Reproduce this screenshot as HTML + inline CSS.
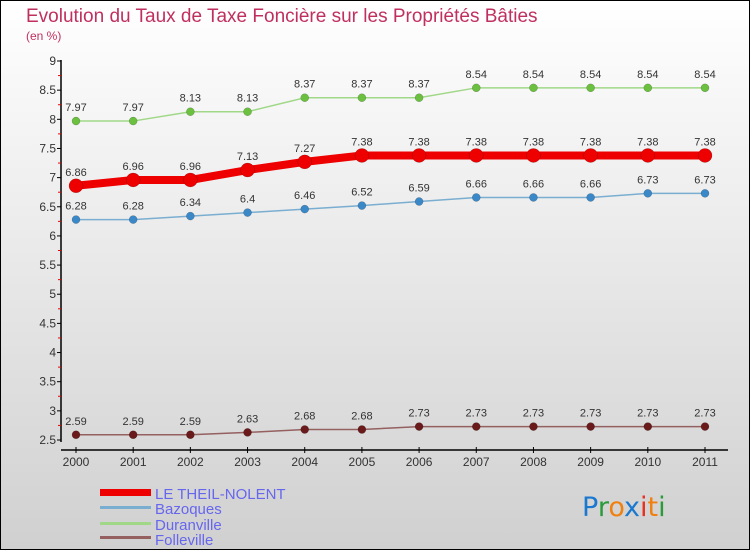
<!DOCTYPE html>
<html><head><meta charset="utf-8"><style>
body{margin:0}
#c{width:750px;height:550px;position:relative;overflow:hidden;font-family:"Liberation Sans",sans-serif}
</style></head><body>
<div id="c">
<svg id="s" width="750" height="550" xmlns="http://www.w3.org/2000/svg">
<defs><linearGradient id="bg" x1="0" y1="0" x2="0" y2="1"><stop offset="0" stop-color="#ffffff"/><stop offset="1" stop-color="#d0d0d0"/></linearGradient></defs>
<rect x="0.5" y="0.5" width="749" height="549" fill="url(#bg)" stroke="#000"/>
<text x="26" y="22" font-size="19" fill="#c0305f">Evolution du Taux de Taxe Foncière sur les Propriétés Bâties</text>
<text x="26" y="40" font-size="12" fill="#c0305f">(en %)</text>
<g id="axes"></g><g id="series"></g>
<g>
<rect x="100" y="489" width="51" height="7" fill="#ee0000"/>
<text x="155" y="499" font-size="15" fill="#6666ee">LE THEIL-NOLENT</text>
<rect x="100" y="506" width="51" height="3" fill="#7aaed0"/>
<text x="155" y="514" font-size="15" fill="#6666ee">Bazoques</text>
<rect x="100" y="522" width="51" height="3" fill="#a0d888"/>
<text x="155" y="530" font-size="15" fill="#6666ee">Duranville</text>
<rect x="100" y="536" width="51" height="3" fill="#946060"/>
<text x="155" y="545" font-size="15" fill="#6666ee">Folleville</text>
</g>
<g font-size="27" font-family="DejaVu Sans, sans-serif">
<text x="582" y="516"><tspan fill="#1a78d0">P</tspan><tspan fill="#2a9a3a">r</tspan><tspan fill="#f08010">o</tspan><tspan fill="#1a78d0">x</tspan><tspan fill="#e83020">i</tspan><tspan fill="#f08010">t</tspan><tspan fill="#2a9a3a">i</tspan></text>
</g>
</svg></div>
<script>
const years=["2000","2001","2002","2003","2004","2005","2006","2007","2008","2009","2010","2011"];
const yTicks=[2.5,3,3.5,4,4.5,5,5.5,6,6.5,7,7.5,8,8.5,9];
const theil=[6.86,6.96,6.96,7.13,7.27,7.38,7.38,7.38,7.38,7.38,7.38,7.38];
const bazoques=[6.28,6.28,6.34,6.4,6.46,6.52,6.59,6.66,6.66,6.66,6.73,6.73];
const duranville=[7.97,7.97,8.13,8.13,8.37,8.37,8.37,8.54,8.54,8.54,8.54,8.54];
const folleville=[2.59,2.59,2.59,2.63,2.68,2.68,2.73,2.73,2.73,2.73,2.73,2.73];
const NS="http://www.w3.org/2000/svg";
function X(i){return 76+i*(705-76)/11;}
function Y(v){return 440-(v-2.5)*(379/6.5);}
function mk(t,a,p){const e=document.createElementNS(NS,t);for(const k in a)e.setAttribute(k,a[k]);p.appendChild(e);return e;}
const ax=document.getElementById('axes');
let yl=mk('line',{x1:61,y1:60,x2:61,y2:442,stroke:'#000','stroke-width':1.5},ax);


let xl=mk('line',{x1:61,y1:450,x2:728,y2:450,stroke:'#000','stroke-width':1.5},ax);


yTicks.forEach((v,i)=>{
 mk('line',{x1:57,y1:Y(v),x2:61,y2:Y(v),stroke:'#000'},ax);
 if(i<yTicks.length-1)mk('line',{x1:58,y1:Y(v+0.25),x2:61,y2:Y(v+0.25),stroke:'#e00'},ax);
 const t=mk('text',{x:56,y:Y(v)+4,'text-anchor':'end','font-size':12,fill:'#333'},ax);
 t.textContent=String(v);
 
 
});
years.forEach((y,i)=>{
 mk('line',{x1:X(i),y1:447,x2:X(i),y2:453,stroke:'#000'},ax);
 const t=mk('text',{x:X(i),y:466,'text-anchor':'middle','font-size':12,fill:'#333'},ax);
 t.textContent=y;
 
 
});
const sg=document.getElementById('series');
function series(name,vals,color,dot,w,r){
 const g=mk('g',{},sg);
 
 
 const p=mk('polyline',{points:vals.map((v,i)=>X(i)+','+Y(v)).join(' '),fill:'none',stroke:color,'stroke-width':w},g);
 
 
 vals.forEach((v,i)=>{
  const c=mk('circle',{cx:X(i),cy:Y(v),r:r,fill:dot,stroke:'rgba(0,0,0,0.3)','stroke-width':0.5},g);
  
  
  const t=mk('text',{x:X(i),y:Y(v)-10,'text-anchor':'middle','font-size':11,fill:'#333'},g);
  t.textContent=String(v);
  
  
 });
}
series('duranville',duranville,'#a0d888','#6cc040',1.5,4);
series('bazoques',bazoques,'#7aaed0','#3a88c8',1.5,4);
series('folleville',folleville,'#946060','#6a1a1a',1.5,4);
series('le-theil-nolent',theil,'#ee0000','#ee0000',8,7);
</script>
</body></html>
